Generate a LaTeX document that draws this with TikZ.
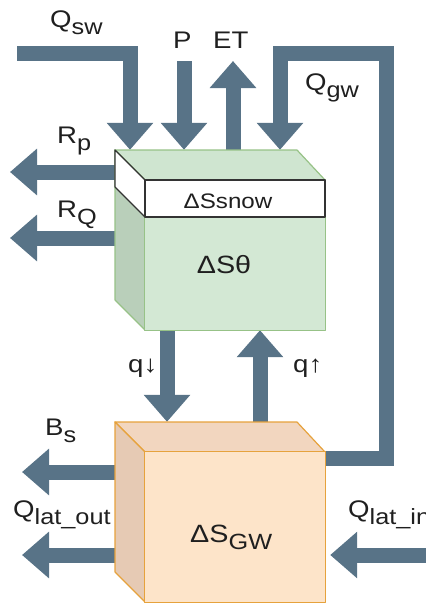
\documentclass[tikz,border=0pt]{standalone}
\usepackage{fontspec}
\setmainfont{Liberation Sans}[FakeStretch=1.15]
\usetikzlibrary{arrows.meta}
\definecolor{flow}{HTML}{587387}
\definecolor{txt}{HTML}{1F1F1F}
\definecolor{gfrontc}{HTML}{D3E8D4}
\definecolor{gtopc}{HTML}{CFE5D0}
\definecolor{gsidec}{HTML}{B9CFBA}
\definecolor{gedge}{HTML}{97C287}
\definecolor{ofrontc}{HTML}{FDE4C9}
\definecolor{otopc}{HTML}{F2D6BF}
\definecolor{osidec}{HTML}{E6CAB4}
\definecolor{oedge}{HTML}{E6A23C}
\definecolor{snowedge}{HTML}{333333}
\newcommand\lowsub[1]{\raisebox{-7pt}{\fontsize{22}{22}\selectfont #1}}
\begin{document}
\begin{tikzpicture}[x=1pt,y=-1pt,
  flowarrow/.style={draw=flow, line width=15pt, line join=miter,
    -{Triangle[width=45pt,length=27pt]}},
  lbl/.style={font=\fontsize{24}{24}\selectfont, text=txt, inner sep=0pt, anchor=base west},
  ghost/.style={draw=none, fill=none, inner sep=0pt, minimum width=182pt, minimum height=150pt},
  face/.style={line width=1.2pt, line join=round}]
\useasboundingbox (0,0) rectangle (426,606);

% invisible reference nodes for the box back faces and front faces
\node[ghost] (gback)  at (206,225) {};
\node[ghost, minimum width=180pt] (gfront) at (235,255) {};
\node[ghost] (gwback) at (206,497) {};
\node[ghost, minimum width=180pt] (gwfront) at (235,527) {};

% free ends of the flows
\coordinate (qswin) at (17,53);
\coordinate (qswbend) at (130,53);
\coordinate (pin) at (184,61);
\coordinate (etout) at (233,61);
\coordinate (qgwa) at (386,458);
\coordinate (qgwb) at (386,53);
\coordinate (qgwc) at (280,53);
\coordinate (rpout) at (10,172);
\coordinate (rqout) at (10,238);
\coordinate (qdown) at (167,0);
\coordinate (qup) at (260,0);
\coordinate (bsout) at (22,472);
\coordinate (qlatout) at (22,555);
\coordinate (qlatin) at (428,555);

% flows
\draw[flowarrow] (qswin) -- (qswbend) -- (qswbend |- gback.north);
\draw[flowarrow] (pin) -- (pin |- gback.north);
\draw[flowarrow] (etout |- gback.north) -- (etout);
\draw[flowarrow] (qgwa -| gwfront.east) -- (qgwa) -- (qgwb) -- (qgwc) -- (qgwc |- gback.north);
\draw[flowarrow] (rpout -| gback.west) -- (rpout);
\draw[flowarrow] (rqout -| gback.west) -- (rqout);
\draw[flowarrow] (qdown |- gfront.south) -- (qdown |- gwback.north);
\draw[flowarrow] (qup |- gwback.north) -- (qup |- gfront.south);
\draw[flowarrow] (bsout -| gwback.west) -- (bsout);
\draw[flowarrow] (qlatout -| gwback.west) -- (qlatout);
\draw[flowarrow, shorten >=5pt] (qlatin) -- (qlatin -| gwfront.east);

% green soil box
\filldraw[face, fill=gtopc, draw=gedge] (115,150) -- (297,150) -- (325,180) -- (145,180) -- cycle;
\filldraw[face, fill=gsidec, draw=gedge] (115,150) -- (145,180) -- (145,330) -- (115,300) -- cycle;
\filldraw[face, fill=gfrontc, draw=gedge] (gfront.north west) rectangle (gfront.south east);
% snow layer
\filldraw[face, fill=white, draw=snowedge] (115,150) -- (145,180) -- (145,217) -- (115,187) -- cycle;
\filldraw[face, fill=white, draw=snowedge] (145,180) rectangle (325,217);

% orange groundwater box
\filldraw[face, fill=otopc, draw=oedge] (115,422) -- (297,422) -- (325,452) -- (145,452) -- cycle;
\filldraw[face, fill=osidec, draw=oedge] (115,422) -- (145,452) -- (145,602) -- (115,572) -- cycle;
\filldraw[face, fill=ofrontc, draw=oedge] (gwfront.north west) rectangle (gwfront.south east);

% labels
\node[lbl] (lqsw) at (50,27) {Q\lowsub{sw}};
\node[lbl] (lp) at (173,48) {P};
\node[lbl] (let) at (213,48) {ET};
\node[lbl] (lqgw) at (305,90) {Q\lowsub{gw}};
\node[lbl] (lrp) at (57,143) {R\lowsub{p}};
\node[lbl] (lrq) at (57,217) {R\lowsub{Q}};
\node[lbl] (lqd) at (128,372) {q↓};
\node[lbl] (lqu) at (293,372) {q↑};
\node[lbl] (lbs) at (45,435) {B\lowsub{s}};
\node[lbl] (lqlo) at (13,517) {Q\lowsub{lat\_out}};
\node[lbl] (lqli) at (348,517) {Q\lowsub{lat\_in}};
\node[lbl, anchor=base, font=\fontsize{21}{21}\selectfont] (lsnow) at (228,208) {ΔSsnow};
\node[lbl, anchor=base, font=\fontsize{25}{25}\selectfont] (ltheta) at (224,273) {ΔSθ};
\node[lbl, font=\fontsize{25}{25}\selectfont] (lgw) at (190,542) {ΔS\lowsub{GW}};
\end{tikzpicture}
\end{document}
